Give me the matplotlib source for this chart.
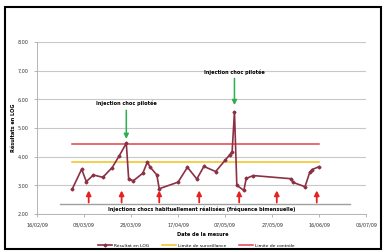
import pandas as pd
import numpy as np
import matplotlib.pyplot as plt
from matplotlib.patches import Rectangle

dates = ["03/03/09", "07/03/09", "09/03/09", "12/03/09", "16/03/09", "20/03/09",
         "23/03/09", "26/03/09", "27/03/09", "29/03/09", "02/04/09", "04/04/09",
         "05/04/09", "08/04/09", "09/04/09", "17/04/09", "21/04/09", "25/04/09",
         "28/04/09", "03/05/09", "07/05/09", "09/05/09", "10/05/09", "11/05/09",
         "12/05/09", "15/05/09", "16/05/09", "19/05/09", "04/06/09", "05/06/09",
         "10/06/09", "12/06/09", "13/06/09", "16/06/09"]
values = [2.87, 3.56, 3.13, 3.36, 3.28, 3.62,
          4.03, 4.47, 3.22, 3.16, 3.42, 3.82,
          3.65, 3.36, 2.88, 3.11, 3.63, 3.22,
          3.66, 3.48, 3.87, 4.07, 4.17, 5.57,
          3.00, 2.82, 3.24, 3.34, 3.23, 3.10,
          2.95, 3.45, 3.55, 3.65]

limit_surveillance = 3.80
limit_controle = 4.44
limit_span = ["03/03/09", "16/06/09"]

# routine shock injections (twice a month)
routine_dates = ["10/03/09", "24/03/09", "09/04/09", "26/04/09", "13/05/09", "29/05/09", "15/06/09"]
routine_span = ["26/02/09", "29/06/09"]
# controlled shock injections
pilot_dates = ["26/03/09", "11/05/09"]
pilot_tops = [5.62, 6.73]
pilot_text_y = [5.86, 6.93]
pilot_tips = [4.62, 5.80]

tick_dates = pd.date_range("2009-02-16", periods=8, freq="20D")

to_dt = lambda s: pd.to_datetime(s, format="%d/%m/%y")
x = to_dt(dates)

line_col = "#8B3045"
orange = "#F2C21B"
red = "#E4404C"
green = "#2EAE4E"
arrow_red = "#E52222"

fig = plt.figure(figsize=(3.85, 2.52), dpi=100)
ax = fig.add_axes([0.096, 0.151, 0.855, 0.682])

ax.set_ylim(2, 8)
ax.set_xlim(tick_dates[0], tick_dates[-1])
ax.set_yticks(np.arange(2, 9, 1))
ax.yaxis.set_major_formatter(plt.FuncFormatter(lambda v, p: ("%.2f" % v).replace(".", ",")))
ax.set_xticks(tick_dates)
ax.set_xticklabels([d.strftime("%d/%m/%y") for d in tick_dates])
ax.tick_params(axis="both", length=2, width=0.5, color="#999999", pad=4, labelcolor="#333333", labelsize=3.5)
ax.grid(axis="y", color="#C8C8C8", lw=0.8)
ax.set_axisbelow(True)
for side in ["top", "right"]:
    ax.spines[side].set_visible(False)
for side in ["left", "bottom"]:
    ax.spines[side].set_color("#AAAAAA")
    ax.spines[side].set_linewidth(0.6)

ls = to_dt(limit_span)
ax.plot(x, values, color=line_col, lw=1.2, marker="D", ms=1.5, label="Résultat en LOG", zorder=4)
ax.plot(ls, [limit_surveillance] * 2, color=orange, lw=1.1, label="Limite de surveillance", zorder=3)
ax.plot(ls, [limit_controle] * 2, color=red, lw=1.1, label="Limite de contrôle", zorder=3)

rs = to_dt(routine_span)
ax.plot(rs, [2.35, 2.35], color="#A0A0A0", lw=1.0, zorder=2)
for d in to_dt(routine_dates):
    ax.annotate("", xy=(d, 2.82), xytext=(d, 2.40),
                arrowprops=dict(arrowstyle="-|>", color=arrow_red, lw=1.3, mutation_scale=7,
                                shrinkA=0, shrinkB=0))
ax.text(to_dt("27/04/09"), 2.17, "Injections chocs habituellement réalisées (fréquence bimensuelle)",
        ha="center", va="center", fontsize=3.6, fontweight="bold")

for d, top, ty, tip in zip(to_dt(pilot_dates), pilot_tops, pilot_text_y, pilot_tips):
    ax.annotate("", xy=(d, tip), xytext=(d, top),
                arrowprops=dict(arrowstyle="-|>", color=green, lw=1.1, mutation_scale=7,
                                shrinkA=0, shrinkB=0))
    ax.text(d, ty, "Injection choc pilotée", ha="center", va="center", fontsize=3.6, fontweight="bold")

ax.set_ylabel("Résultats en LOG", fontsize=3.6, fontweight="bold")
ax.yaxis.set_label_coords(-0.064, 0.5)
fig.text(0.527, 0.071, "Date de la mesure", ha="center", va="center", fontsize=3.6, fontweight="bold")
fig.legend(loc="center", bbox_to_anchor=(0.51, 0.024), ncol=3, fontsize=3.2, frameon=False,
           handlelength=3, columnspacing=3, handletextpad=0.5)

fig.patches.append(Rectangle((5 / 385, 3 / 252), 376 / 385, 242 / 252, transform=fig.transFigure,
                             fill=False, ec="black", lw=1.5))

fig.savefig("out.png", dpi=100)
